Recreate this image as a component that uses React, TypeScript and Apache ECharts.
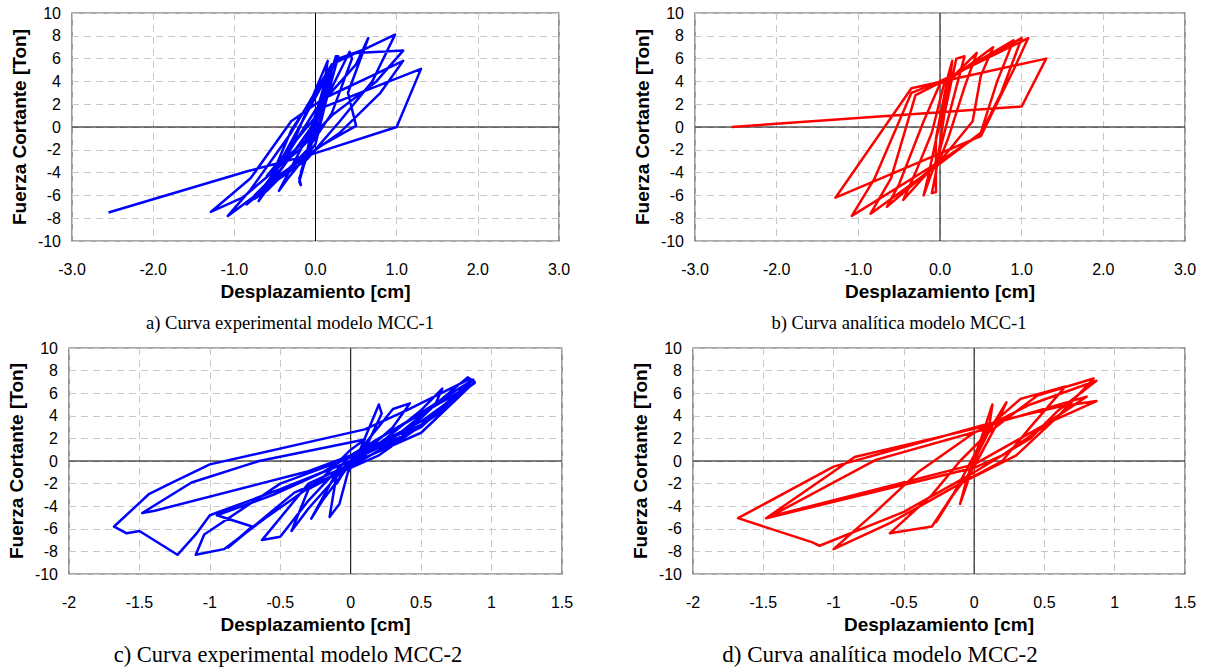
import React, { useEffect, useRef } from "react";
import * as echarts from "echarts";

// ---- Data ----
const yTicks = [-10, -8, -6, -4, -2, 0, 2, 4, 6, 8, 10];
const xTicksTop = [-3, -2, -1, 0, 1, 2, 3];
const xTicksBottom = [-2, -1.5, -1, -0.5, 0, 0.5, 1, 1.5];

const captions = [
  "a) Curva experimental modelo MCC-1",
  "b) Curva analítica modelo MCC-1",
  "c) Curva experimental modelo MCC-2",
  "d) Curva analítica modelo MCC-2",
];

const expMcc1: [number, number][] = [
  [0, 0], [0.05, 1.5], [0.1, 3.5], [0.0, 1.0], [-0.1, -2.0], [-0.18, -4.0], [-0.1, -2.5], [0.0, 0.5],
  [0.15, 4.2], [0.2, 5.0], [0.05, 0.5], [-0.2, -4.5], [-0.18, -5.1], [-0.2, -4.8], [-0.05, -1.0],
  [0.25, 6.2], [0.28, 6.2], [0.12, 2.0], [0.0, -1.5], [-0.35, -4.6], [-0.45, -5.6], [-0.2, -2.2],
  [0.1, 2.0], [0.42, 6.6], [0.45, 6.0], [0.2, 1.2], [-0.1, -2.0], [-0.6, -5.6], [-0.75, -6.3],
  [-0.4, -3.0], [0.0, 1.5], [0.5, 5.5], [0.65, 7.8], [0.4, 3.0], [0.5, 0.1], [0.1, -1.5],
  [-0.5, -4.5], [-0.85, -6.8], [-0.6, -5.3], [-0.3, -0.3], [0.1, 4.0], [0.28, 6.0], [0.6, 6.8],
  [0.98, 8.1], [0.7, 4.0], [0.3, 0.5], [-0.1, -2.8], [-0.7, -5.8], [-1.08, -7.8], [-0.8, -5.5],
  [-0.3, -0.5], [0.2, 5.5], [0.5, 6.5], [1.08, 6.7], [0.75, 4.0], [0.2, 1.0], [-0.2, -2.0],
  [-0.9, -6.2], [-1.29, -7.45], [-0.8, -4.5], [-0.3, 0.5], [0.1, 2.5], [0.7, 4.5], [1.08, 5.8],
  [0.8, 3.0], [0.3, -0.5], [-0.2, -3.0], [-0.75, -6.0], [-0.4, -3.5], [0.15, 5.8], [0.05, 1.0],
  [-0.55, -5.0], [-0.7, -6.5], [0.2, 5.2], [-0.1, -1.0], [-0.6, -4.3], [0.1, 1.75], [1.3, 5.1],
  [1.0, 0.0], [-0.05, -2.4], [-0.85, -3.9], [-2.55, -7.5],
];

const anaMcc1: [number, number][] = [
  [0, 0], [0.1, 3.0], [0.15, 5.8], [0.1, 4.5], [-0.05, -1.0], [-0.05, -5.7], [-0.1, -5.8],
  [-0.05, -4.0], [0.05, 1.0], [0.2, 6.0], [0.3, 6.2], [0.2, 3.5], [0.0, -2.0], [-0.2, -6.0],
  [-0.15, -4.5], [0.0, 0.5], [0.1, 4.0], [0.45, 6.5], [0.3, 3.5], [0.1, -1.0], [0.0, -2.8],
  [-0.45, -6.4], [-0.3, -4.0], [-0.1, -0.5], [0.05, 3.8], [0.65, 7.0], [0.5, 4.5], [0.4, 0.5],
  [0.0, -3.0], [-0.65, -7.0], [-0.5, -5.0], [-0.2, 0.5], [0.0, 3.8], [0.9, 7.6], [0.7, 4.0],
  [0.5, -0.5], [0.0, -3.2], [-0.85, -7.6], [-0.6, -4.5], [-0.3, 2.8], [0.0, 3.9], [1.0, 7.8],
  [0.75, 3.0], [0.5, -0.6], [0.0, -3.0], [-1.08, -7.8], [-0.8, -4.5], [-0.35, 3.0], [0.0, 4.0],
  [1.08, 7.8], [0.9, 5.0], [0.5, -0.8], [-1.28, -6.2], [-0.35, 3.4], [1.3, 6.0], [1.0, 1.8],
  [-2.55, 0.0],
];

const expMcc2: [number, number][] = [
  [0, 0], [0.1, 1.0], [0.2, 2.0], [0.1, 0.5], [-0.05, -0.8], [-0.1, -2.0], [-0.05, -1.0],
  [0.05, 0.5], [0.2, 5.0], [0.22, 4.2], [0.1, 1.0], [-0.1, -1.2], [-0.15, -4.95], [-0.08, -3.8],
  [-0.02, -1.0], [0.1, 1.5], [0.3, 4.6], [0.42, 5.1], [0.3, 3.0], [0.1, 0.8], [-0.1, -1.0],
  [-0.28, -5.1], [-0.2, -3.5], [0.0, -0.2], [0.25, 2.0], [0.5, 4.5], [0.65, 6.4], [0.6, 5.0],
  [0.35, 2.0], [0.0, -0.5], [-0.3, -2.5], [-0.42, -6.2], [-0.3, -4.2], [0.0, 0.0], [0.3, 2.0],
  [0.6, 5.0], [0.83, 7.4], [0.88, 7.0], [0.5, 2.5], [0.1, 0.3], [-0.3, -2.0], [-0.63, -7.0],
  [-0.5, -6.7], [-0.3, -3.5], [0.0, 0.5], [0.4, 3.5], [0.87, 7.2], [0.6, 4.0], [0.2, 0.5],
  [-0.4, -2.8], [-0.87, -7.65], [-0.7, -5.8], [-0.95, -4.8], [-0.55, -3.0], [-0.2, -1.0],
  [0.2, 2.0], [0.88, 6.9], [0.5, 3.5], [0.0, 0.3], [-0.5, -2.0], [-1.04, -6.5], [-1.1, -8.3],
  [-0.9, -7.8], [-0.6, -5.0], [-0.2, -1.5], [0.0, 1.0], [0.1, 1.9], [-0.65, 0.0],
  [-1.13, -1.9], [-1.48, -4.6], [-1.39, -4.4], [-0.3, -0.9], [0.0, 0.5], [0.5, 3.2],
  [0.85, 7.0], [0.5, 3.0], [0.0, 0.0], [-0.5, -2.5], [-1.0, -4.8], [-1.1, -6.5], [-1.23, -8.3],
  [-1.5, -6.2], [-1.59, -6.4], [-1.68, -5.8], [-1.43, -2.9], [-1.25, -1.8], [-1.0, -0.3],
  [0.1, 2.8], [0.4, 4.5], [0.85, 7.3],
];

const anaMcc2: [number, number][] = [
  [0, 0], [0.1, 2.5], [0.13, 5.0], [0.05, 2.0], [-0.05, -1.5], [-0.1, -3.8], [-0.05, -2.0],
  [0.05, 1.5], [0.23, 5.2], [0.15, 3.0], [0.0, -0.5], [-0.15, -3.0], [-0.27, -5.4], [-0.15, -3.0],
  [0.0, 0.5], [0.1, 3.0], [0.33, 5.5], [0.65, 6.6], [0.4, 3.0], [0.2, 0.0], [-0.1, -2.0],
  [-0.3, -5.8], [-0.6, -6.4], [-0.3, -3.0], [-0.1, 0.0], [0.1, 2.5], [0.45, 5.8], [0.85, 7.3],
  [0.6, 4.0], [0.3, 0.5], [-0.1, -2.0], [-0.6, -5.5], [-1.0, -7.8], [-0.7, -4.5], [-0.4, -1.0],
  [0.0, 2.5], [0.4, 5.0], [0.87, 7.1], [0.6, 4.5], [0.4, 2.0], [0.0, -1.0], [-0.5, -4.5],
  [-1.1, -7.5], [-1.15, -7.2], [-1.68, -5.06], [-1.0, -0.5], [0.1, 3.3], [0.6, 4.8], [0.87, 5.3],
  [0.55, 3.5], [0.2, 0.5], [0.0, -0.6], [-1.48, -5.06], [-0.85, 0.35], [0.05, 3.0], [0.8, 5.7],
  [0.5, 3.2], [0.0, -0.3], [-1.45, -4.9], [-0.7, 0.1], [0.1, 2.9],
];

const panels = [
  { data: expMcc1, color: "#0000ff", ticks: xTicksTop, fmt: (v: number) => v.toFixed(1) },
  { data: anaMcc1, color: "#ff0000", ticks: xTicksTop, fmt: (v: number) => v.toFixed(1) },
  { data: expMcc2, color: "#0000ff", ticks: xTicksBottom, fmt: (v: number) => String(v) },
  { data: anaMcc2, color: "#ff0000", ticks: xTicksBottom, fmt: (v: number) => String(v) },
];

const grids = [
  { left: 72, top: 13, width: 487, height: 228 },
  { left: 695, top: 13, width: 490, height: 228 },
  { left: 69, top: 348, width: 493, height: 226 },
  { left: 693, top: 348, width: 492, height: 226 },
];

const captionPos = [
  { x: 290, y: 322, size: 18.6 },
  { x: 899, y: 322, size: 18.6 },
  { x: 288, y: 654, size: 22.5 },
  { x: 880, y: 654, size: 23 },
];

export default function App() {
  const ref = useRef<HTMLDivElement>(null);
  useEffect(() => {
    if (!ref.current) return;
    const chart = echarts.init(ref.current, null, { renderer: "svg" });
    const sans = "'Liberation Sans', Arial, sans-serif";
    const xAxis: any[] = [];
    const yAxis: any[] = [];
    const series: any[] = [];
    panels.forEach((p, i) => {
      const xmin = p.ticks[0];
      const xmax = p.ticks[p.ticks.length - 1];
      const step = p.ticks[1] - p.ticks[0];
      xAxis.push({
        type: "value",
        gridIndex: i,
        min: xmin,
        max: xmax,
        interval: step,
        axisLine: { show: false },
        axisTick: { show: false },
        axisLabel: {
          fontFamily: sans,
          fontSize: 16,
          color: "#000",
          margin: 20,
          formatter: p.fmt,
        },
        splitLine: { show: true, lineStyle: { color: "#c8c8c8", type: [7, 5], width: 1 } },
        name: "Desplazamiento [cm]",
        nameLocation: "middle",
        nameGap: 41,
        nameTextStyle: { fontFamily: sans, fontSize: 19, fontWeight: "bold", color: "#000" },
      });
      yAxis.push({
        type: "value",
        gridIndex: i,
        min: yTicks[0],
        max: yTicks[yTicks.length - 1],
        interval: yTicks[1] - yTicks[0],
        axisLine: { show: false },
        axisTick: { show: false },
        axisLabel: { fontFamily: sans, fontSize: 16, color: "#000", margin: 11 },
        splitLine: { show: true, lineStyle: { color: "#c8c8c8", type: [7, 5], width: 1 } },
        name: "Fuerza Cortante [Ton]",
        nameLocation: "middle",
        nameGap: 43,
        nameTextStyle: { fontFamily: sans, fontSize: 19, fontWeight: "bold", color: "#000" },
      });
      series.push({
        type: "line",
        xAxisIndex: i,
        yAxisIndex: i,
        data: [[xmin, 0], [xmax, 0]],
        symbol: "none",
        silent: true,
        z: 1,
        lineStyle: { color: "#000", width: 1 },
      });
      series.push({
        type: "line",
        xAxisIndex: i,
        yAxisIndex: i,
        data: [[0, -10], [0, 10]],
        symbol: "none",
        silent: true,
        z: 1,
        lineStyle: { color: "#000", width: 1 },
      });
      series.push({
        type: "line",
        xAxisIndex: i,
        yAxisIndex: i,
        data: p.data,
        symbol: "none",
        z: 3,
        lineStyle: { color: p.color, width: 2.5, join: "round" },
      });
    });
    chart.setOption({
      animation: false,
      backgroundColor: "#fff",
      grid: grids.map((g) => ({ ...g, show: true, borderColor: "#555", borderWidth: 1.2 })),
      xAxis,
      yAxis,
      series,
      graphic: captions.map((t, i) => ({
        type: "text",
        x: captionPos[i].x,
        y: captionPos[i].y,
        style: {
          text: t,
          fill: "#000",
          font: `${captionPos[i].size}px 'Liberation Serif', 'Times New Roman', serif`,
          textAlign: "center",
          textVerticalAlign: "middle",
        },
      })),
    });
    return () => chart.dispose();
  }, []);
  return (
    <div
      ref={ref}
      style={{ position: "fixed", left: 0, top: 0, width: 1207, height: 672 }}
    />
  );
}
